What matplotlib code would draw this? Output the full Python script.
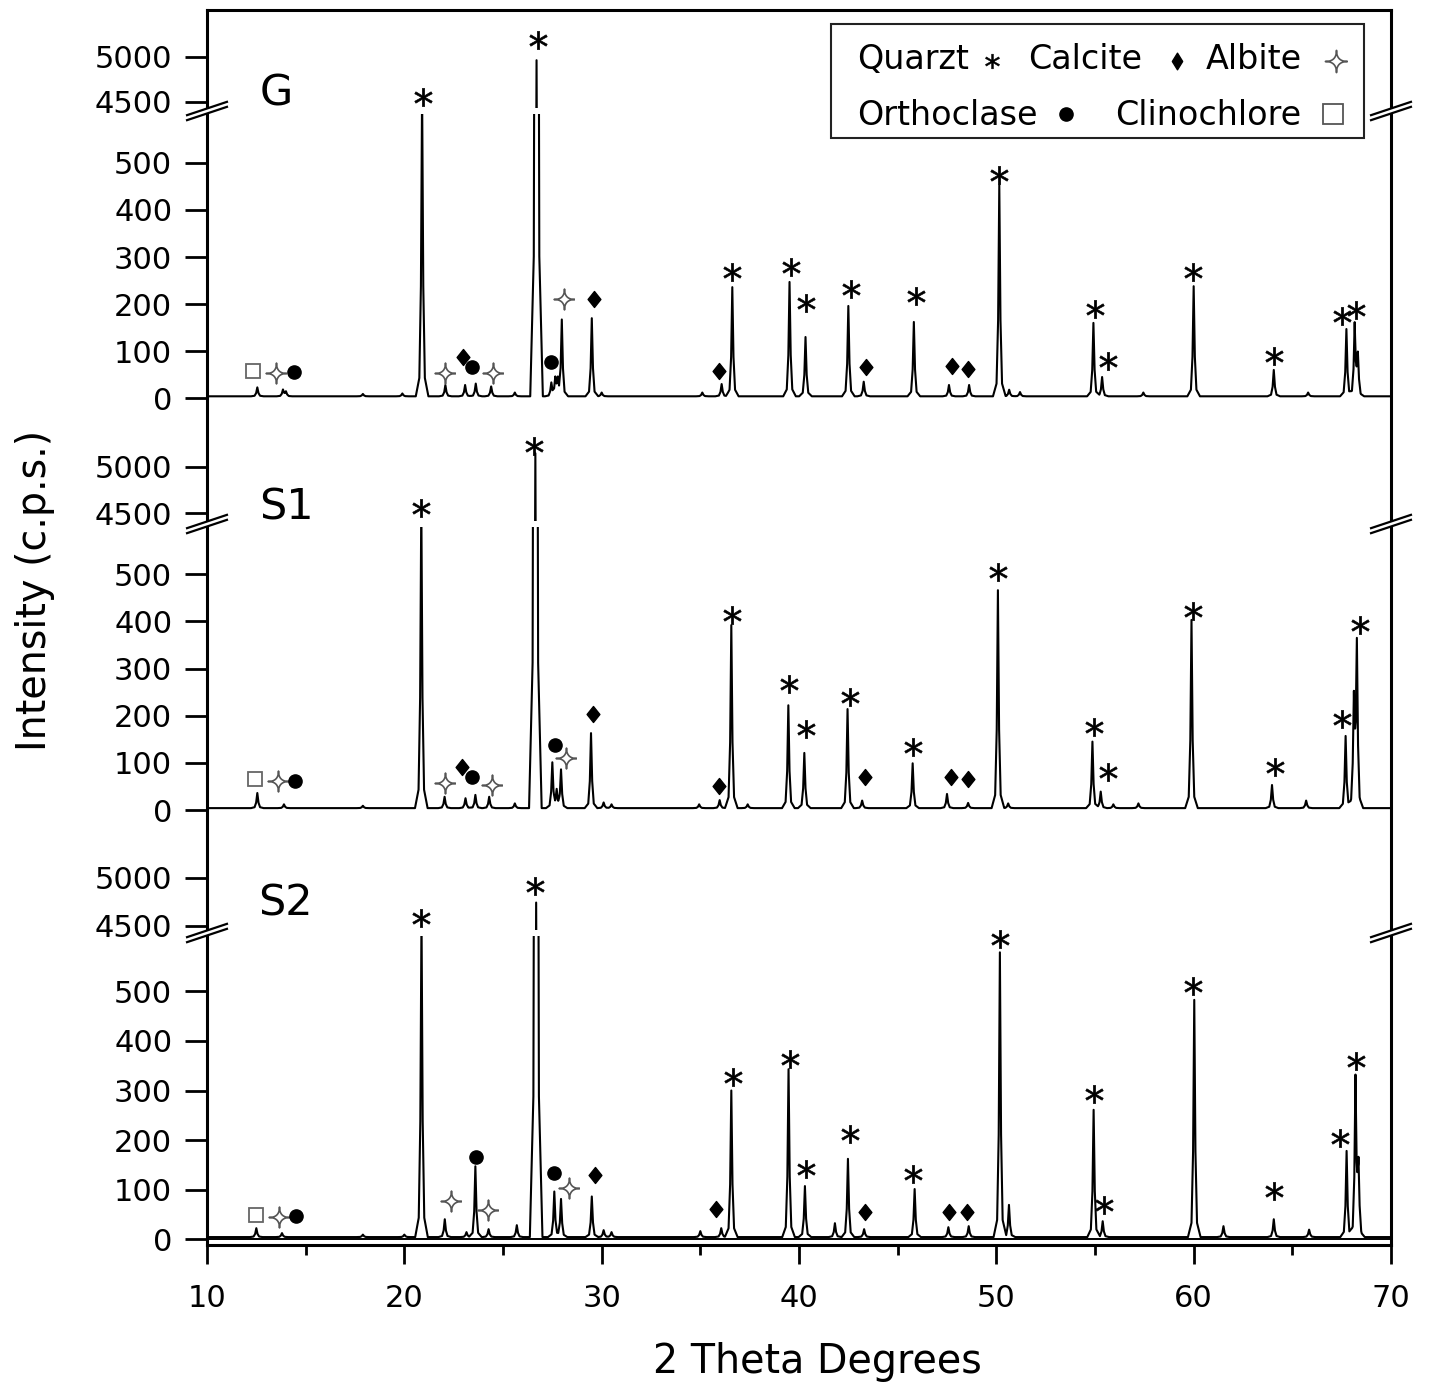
import numpy as np
import matplotlib
matplotlib.use("Agg")
import matplotlib.pyplot as plt
from matplotlib.path import Path
from matplotlib.patches import Rectangle, Polygon
from matplotlib.ticker import MultipleLocator

plt.rcParams['font.family'] = ['DejaVu Sans']

# ---------------- data ----------------
x_min, x_max = 10, 70
x_major = [10, 20, 30, 40, 50, 60, 70]
low_ticks = [0, 100, 200, 300, 400, 500]
high_ticks = [4500, 5000]
samples = ['G', 'S1', 'S2']

# peak position (2 theta) / height above background (c.p.s.)
G_pos = [12.55, 13.85, 14.0, 17.9, 19.9, 20.9, 22.08, 23.08, 23.62, 24.4, 25.6, 26.7, 27.45, 27.65,
         27.78, 27.98, 29.5, 30.0, 35.1, 36.08, 36.62, 39.52, 40.33, 42.5, 43.28, 45.82, 47.6, 48.62,
         50.15, 50.65, 51.2, 54.92, 55.36, 57.45, 60.0, 64.06, 65.8, 67.74, 68.16, 68.32]
G_hgt = [19, 14, 10, 5, 6, 650, 24, 24, 27, 21, 8, 4960, 28, 38,
         32, 162, 166, 8, 8, 26, 232, 243, 126, 192, 31, 158, 24, 24,
         449, 14, 9, 156, 41, 8, 234, 56, 8, 143, 153, 87]

S1_pos = [12.55, 13.9, 17.9, 20.86, 22.04, 23.1, 23.6, 24.3, 25.6, 26.64, 27.5, 27.72, 27.94, 29.46,
          30.1, 30.5, 34.94, 35.98, 36.57, 37.4, 39.46, 40.27, 42.46, 43.2, 45.76, 47.5, 48.57, 50.08,
          50.6, 54.87, 55.29, 55.93, 57.2, 59.89, 63.97, 65.7, 67.7, 68.12, 68.27]
S1_hgt = [32, 8, 5, 650, 24, 21, 28, 24, 10, 5140, 96, 35, 81, 159,
          12, 8, 8, 17, 388, 8, 218, 117, 210, 16, 95, 30, 11, 462,
          10, 141, 35, 8, 10, 399, 49, 16, 153, 229, 348]

S2_pos = [12.5, 13.8, 17.9, 20.0, 20.87, 22.05, 23.15, 23.6, 24.27, 25.7, 26.68, 27.6, 27.94, 29.5,
          30.1, 30.5, 35.0, 36.06, 36.57, 39.47, 40.3, 41.82, 42.48, 43.3, 45.86, 47.57, 48.6, 50.18,
          50.64, 54.93, 55.39, 60.03, 61.51, 64.06, 65.85, 67.75, 68.2, 68.35]
S2_hgt = [18, 8, 5, 5, 650, 36, 10, 143, 16, 24, 4740, 92, 77, 82,
          14, 10, 12, 18, 296, 339, 103, 28, 158, 16, 97, 20, 22, 575,
          65, 257, 32, 479, 22, 36, 15, 174, 320, 144]

background = [4, 4, 4]

# phase labels: k clinochlore, a albite, o orthoclase, q quartz, c calcite
# (y above 1000 belongs to the upper part of the broken axis)
G_lab_x = [12.33, 13.49, 14.40, 20.94, 22.05, 22.96, 23.42, 24.48, 26.76, 27.42, 28.08, 29.59, 35.97, 36.63,
           39.57, 40.38, 42.61, 43.37, 45.95, 47.77, 48.58, 50.15, 55.01, 55.67, 59.97, 64.08, 67.52, 68.23]
G_lab_y = [57, 53, 55, 4556, 53, 87, 66, 53, 5189, 77, 211, 211, 57, 268,
           279, 202, 232, 66, 217, 68, 62, 474, 189, 79, 268, 89, 174, 187]
G_lab_s = "kaoqacoaqoaccqqqqcqccqqqqqqq"

S1_lab_x = [12.43, 13.60, 14.46, 20.85, 22.06, 22.92, 23.43, 24.44, 26.57, 27.64, 28.20, 29.56, 35.95, 36.61,
            39.48, 40.36, 42.59, 43.35, 45.78, 47.71, 48.57, 50.09, 54.96, 55.67, 59.97, 64.13, 67.53, 68.44]
S1_lab_y = [66, 61, 61, 4560, 57, 91, 70, 53, 5222, 138, 110, 203, 51, 413,
            267, 172, 239, 70, 133, 70, 66, 504, 176, 81, 422, 91, 193, 392]
S1_lab_s = "kaoqacoaqoaccqqqqcqccqqqqqqq"

S2_lab_x = [12.48, 13.65, 14.51, 20.85, 22.37, 23.63, 24.24, 26.62, 27.59, 28.35, 29.67, 35.80, 36.66,
            39.55, 40.36, 42.59, 43.35, 45.78, 47.61, 48.52, 50.19, 54.96, 55.46, 59.97, 64.08, 67.43, 68.24]
S2_lab_y = [48, 44, 46, 4583, 77, 166, 59, 4917, 133, 103, 129, 61, 327,
            364, 141, 212, 55, 131, 55, 55, 606, 293, 69, 511, 97, 204, 360]
S2_lab_s = "kaoqaoaqoaccqqqqcqccqqqqqqq"

legend_row1 = [('Quarzt', 'q'), ('Calcite', 'c'), ('Albite', 'a')]
legend_row2 = [('Orthoclase', 'o'), ('Clinochlore', 'k')]

# ---------------- figure layout (pixels) ----------------
W, H = 1430, 1394
L, R = 207, 1391
# upper segment (top, bottom), lower segment (top, bottom), y-limits
layout = [
    dict(up=(10, 108), lo=(114, 425), up_lim=(4433, 5522), lo_lim=(-57, 604), brk=111, lab=(260, 106)),
    dict(up=(425, 521), lo=(527, 835), up_lim=(4417, 5447), lo_lim=(-53, 600), brk=524, lab=(259, 520)),
    dict(up=(835, 930), lo=(936, 1245), up_lim=(4458, 5448), lo_lim=(-12, 612), brk=933, lab=(258, 915)),
]

fig = plt.figure(figsize=(W / 100, H / 100), dpi=100)


def px_axes(top, bottom):
    return fig.add_axes([L / W, 1 - bottom / H, (R - L) / W, (bottom - top) / H])


# peak shape used to draw the trace
prof_dx = np.array([-0.32, -0.14, -0.06, 0.0, 0.06, 0.14, 0.32])
prof_fr = np.array([0.0, 0.06, 0.36, 1.0, 0.36, 0.06, 0.0])


def pattern(pos, hgt, base):
    xs = np.unique(np.concatenate([[x_min, x_max]] + [p + prof_dx for p in pos]))
    ys = np.full(xs.shape, float(base))
    for p, h in zip(pos, hgt):
        ys += np.interp(xs, p + prof_dx, h * prof_fr, left=0, right=0)
    return xs, ys


# four-pointed open star for albite
t = np.linspace(0, 2 * np.pi, 121)
c, s = np.cos(t), np.sin(t)
sparkle = Path(np.column_stack([np.sign(c) * np.abs(c) ** 4, np.sign(s) * np.abs(s) ** 4]))
diamond = Path([(0, 1), (0.8, 0), (0, -1), (-0.8, 0), (0, 1)], closed=True)
slim_diamond = Path([(0, 1), (0.62, 0), (0, -1), (-0.62, 0), (0, 1)], closed=True)

sym_style = {
    'q': dict(marker='$*$', ms=13, color='k', mew=0.5),
    'c': dict(marker=diamond, ms=11.5, color='k'),
    'a': dict(marker=sparkle, ms=15, mfc='white', mec='#555555', mew=1.2),
    'o': dict(marker='o', ms=9.5, color='k'),
    'k': dict(marker='s', ms=10.5, mfc='white', mec='#666666', mew=1.3),
}

# outer frame with the 2 theta axis
frame = px_axes(10, 1245)
frame.set_xlim(x_min, x_max)
frame.set_ylim(0, 1)
frame.set_yticks([])
frame.set_xticks(x_major)
frame.xaxis.set_minor_locator(MultipleLocator(5))
frame.tick_params(axis='x', which='major', direction='out', length=14, width=2, labelsize=22, pad=14)
frame.tick_params(axis='x', which='minor', direction='out', length=7, width=2)
for sp in frame.spines.values():
    sp.set_linewidth(2.2)

pos_all = [G_pos, S1_pos, S2_pos]
hgt_all = [G_hgt, S1_hgt, S2_hgt]
lab_all = [(G_lab_x, G_lab_y, G_lab_s), (S1_lab_x, S1_lab_y, S1_lab_s), (S2_lab_x, S2_lab_y, S2_lab_s)]

for i, name in enumerate(samples):
    lay = layout[i]
    up = px_axes(*lay['up'])
    lo = px_axes(*lay['lo'])
    up.set_ylim(*lay['up_lim'])
    lo.set_ylim(*lay['lo_lim'])
    up.set_yticks(high_ticks)
    lo.set_yticks(low_ticks)
    for ax in (up, lo):
        ax.set_xlim(x_min, x_max)
        ax.patch.set_visible(False)
        for sp in ax.spines.values():
            sp.set_visible(False)
        ax.tick_params(axis='x', which='both', bottom=False, labelbottom=False)
        ax.tick_params(axis='y', direction='out', length=16, width=2, labelsize=22, pad=9)

    xs, ys = pattern(pos_all[i], hgt_all[i], background[i])
    for ax in (up, lo):
        ax.plot(xs, ys, color='k', lw=1.5)

    lx, ly, ls = lab_all[i]
    for x, y, k in zip(lx, ly, ls):
        ax = up if y > 1000 else lo
        ax.plot([x], [y], ls='none', clip_on=False, zorder=5, **sym_style[k])

    if i == 2:
        lo.axhline(0, color='k', lw=1.4)

# overlay in pixel coordinates for annotations
ov = fig.add_axes([0, 0, 1, 1], zorder=10)
ov.set_xlim(0, W)
ov.set_ylim(H, 0)
ov.axis('off')

for i, name in enumerate(samples):
    lay = layout[i]
    ov.text(lay['lab'][0], lay['lab'][1], name, fontsize=31, ha='left', va='baseline')
    for xc in (L, R):
        yc = lay['brk']
        ov.add_patch(Polygon([(xc - 21, yc + 4.5), (xc + 21, yc - 9.5), (xc + 21, yc - 4.5), (xc - 21, yc + 9.5)],
                             closed=True, fc='white', ec='none'))
        for off in (-2.5, 2.5):
            ov.plot([xc - 21, xc + 21], [yc + 7 + off, yc - 7 + off], color='k', lw=1.6,
                    solid_capstyle='butt')

# legend box
ov.add_patch(Rectangle((831, 24), 533, 114, fill=False, ec='#222222', lw=1.5))
leg_style = {
    'q': dict(marker='$*$', ms=10.5, color='k', mew=0.4),
    'c': dict(marker=slim_diamond, ms=12, color='k'),
    'a': dict(marker=sparkle, ms=16, mfc='white', mec='#555555', mew=1.2),
    'o': dict(marker='o', ms=9.5, color='k'),
    'k': dict(marker='s', ms=15, mfc='white', mec='#555555', mew=1.3),
}
row1_tx = [857, 1028, 1206]
row1_mx = [992, 1177, 1336]
row2_tx = [857, 1115]
row2_mx = [1066, 1333]
for (txt, k), tx, mx in zip(legend_row1, row1_tx, row1_mx):
    ov.text(tx, 69, txt, fontsize=24, ha='left', va='baseline')
    ov.plot([mx], [61], ls='none', **leg_style[k])
for (txt, k), tx, mx in zip(legend_row2, row2_tx, row2_mx):
    ov.text(tx, 125, txt, fontsize=24, ha='left', va='baseline')
    ov.plot([mx], [114], ls='none', **leg_style[k])

ov.text(35, 590, 'Intensity (c.p.s.)', fontsize=28.5, rotation=90, ha='center', va='center')
ov.text(817, 1373, '2 Theta Degrees', fontsize=28.5, ha='center', va='baseline')

fig.savefig('out.png', dpi=100)
